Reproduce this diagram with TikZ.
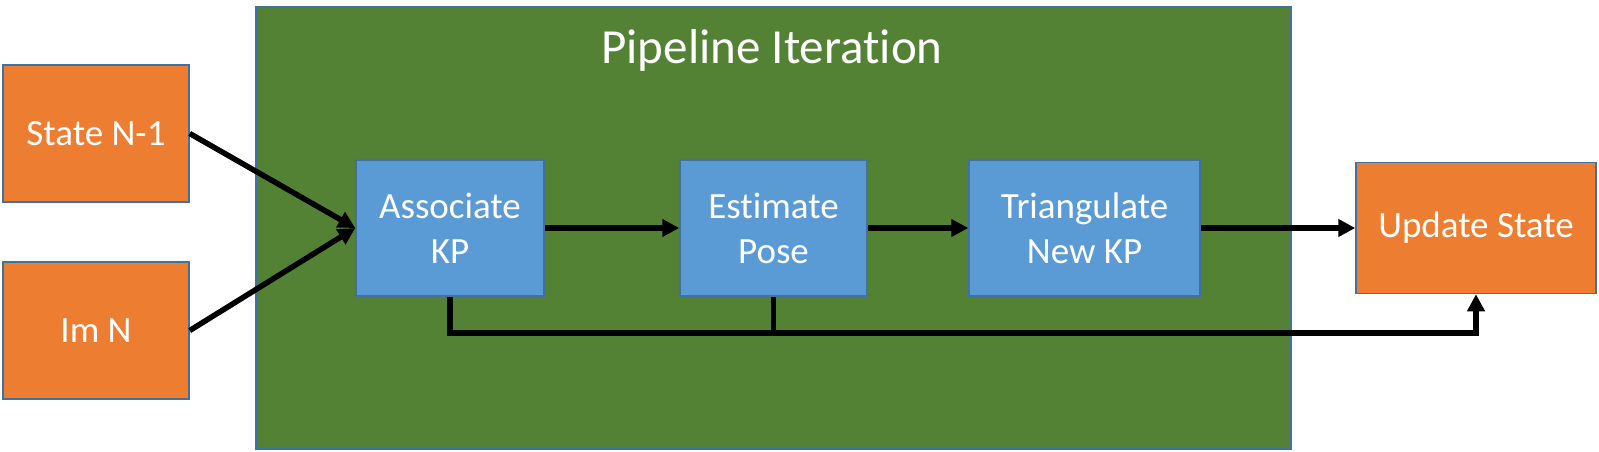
\documentclass[tikz,border=0pt]{standalone}
\usepackage{fontspec}
\setmainfont{Carlito}[Ligatures=NoCommon]
\usetikzlibrary{arrows.meta}
\definecolor{orangebox}{HTML}{ED7D31}
\definecolor{bluebox}{HTML}{5B9BD5}
\definecolor{greenbg}{HTML}{548235}
\definecolor{edgeblue}{HTML}{41719C}
\tikzset{
 blk/.style={draw=edgeblue,line width=1.5pt,fill=bluebox,text=white,
  minimum width=188pt,minimum height=136pt,inner sep=0pt,align=center,
  font=\fontsize{37}{45}\selectfont},
 io/.style={blk,fill=orangebox},
 flow/.style={line width=5.5pt,-{Triangle[length=17pt,width=17pt]}},
}
\begin{document}
\begin{tikzpicture}[x=1pt,y=-1pt]
 \useasboundingbox (0,0) rectangle (1599,451);
 % khung lap
 \node[draw=edgeblue,line width=1.5pt,fill=greenbg,minimum width=1035pt,
  minimum height=442pt,inner sep=0pt] (iter) at (773.5,228) {};
 \node[text=white,font=\fontsize{49}{59}\selectfont,anchor=base]
  (title) at (772,63) {Pipeline Iteration};
 \path
 (96,133.5) node[io,minimum width=186pt,minimum height=137pt] (prev) {State N-1} % <<< dau vao
 ++(0,197) node[io,minimum width=186pt,minimum height=137pt] (img) {Im N}
 (450,228) node[blk] (assoc) {Associate\\KP} % <<< cac buoc
 ++(323.5,0) node[blk,minimum width=187pt] (pose) {Estimate\\Pose}
 ++(311,0) node[blk,minimum width=231pt] (tri) {Triangulate\\New KP}
 (1476,228) node[io,minimum width=240pt,minimum height=131pt] (upd) {Update State};
 \coordinate (fb) at (0,333);
 \draw[flow] (prev.east)--(assoc.west);
 \draw[flow] (img.east)--(assoc.west);
 \draw[flow] (assoc)--(pose);
 \draw[flow] (pose)--(tri);
 \draw[flow] (tri)--(upd);
 \draw[flow] (assoc.south)--(assoc.south|-fb)-|(upd.south);
 \draw[line width=5.5pt] (pose.south)--(pose.south|-fb);
\end{tikzpicture}
\end{document}
